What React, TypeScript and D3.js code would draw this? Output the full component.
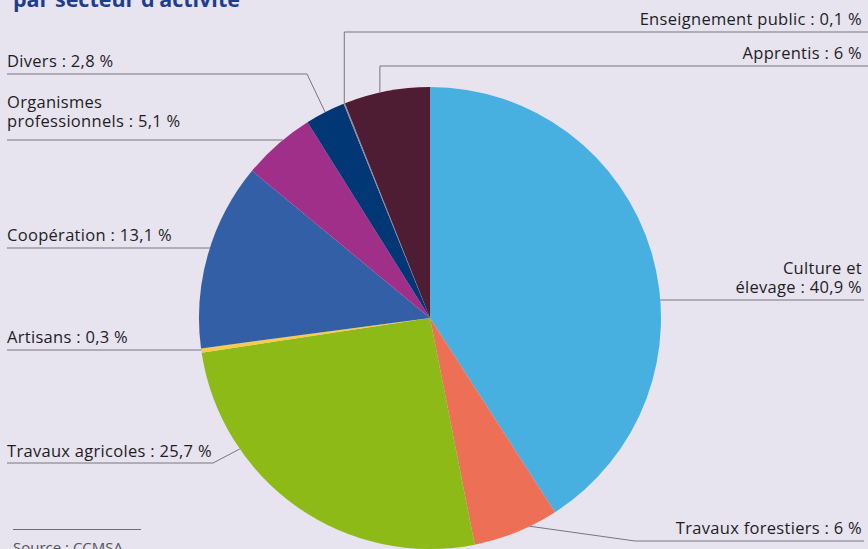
import React, { useEffect, useRef } from 'react';
import * as d3 from 'd3';

// Données : répartition par secteur d'activité (sens horaire depuis midi)
const categories = [
  'Culture et élevage',
  'Travaux forestiers',
  'Travaux agricoles',
  'Artisans',
  'Coopération',
  'Organismes professionnels',
  'Divers',
  'Enseignement public',
  'Apprentis',
];
const values = [40.9, 6, 25.7, 0.3, 13.1, 5.1, 2.8, 0.1, 6];
const labelTexts = [
  ['Culture et', 'élevage : 40,9 %'],
  ['Travaux forestiers : 6 %'],
  ['Travaux agricoles : 25,7 %'],
  ['Artisans : 0,3 %'],
  ['Coopération : 13,1 %'],
  ['Organismes', 'professionnels : 5,1 %'],
  ['Divers : 2,8 %'],
  ['Enseignement public : 0,1 %'],
  ['Apprentis : 6 %'],
];
const colors = ['#47b0e0', '#ec6f56', '#8dba17', '#f8cb4a', '#335fa6', '#a02f89', '#023776', '#8d8aa6', '#4f1d33'];

// Placement des étiquettes (séparé des données)
type Layout = { side: 'left' | 'right'; y: number; kind: 'h' | 'elbow' | 'v'; at?: number; elbowX?: number; gap?: number };
const layouts: Layout[] = [
  { side: 'right', y: 300, kind: 'h' },
  { side: 'right', y: 541, kind: 'elbow', at: 0.33, elbowX: 635 },
  { side: 'left', y: 463, kind: 'elbow', at: 0.72, elbowX: 213, gap: 6 },
  { side: 'left', y: 350, kind: 'h' },
  { side: 'left', y: 248, kind: 'h' },
  { side: 'left', y: 140, kind: 'h', gap: 13 },
  { side: 'left', y: 74, kind: 'elbow', at: 0.5, elbowX: 307 },
  { side: 'right', y: 32, kind: 'v', at: 0.5 },
  { side: 'right', y: 66, kind: 'v', at: 0.42 },
];

const W = 868;
const H = 549;

const App: React.FC = () => {
  const ref = useRef<SVGSVGElement>(null);

  useEffect(() => {
    document.body.style.margin = '0';
    document.body.style.background = '#e7e3ef';

    const svg = d3.select(ref.current);
    svg.selectAll('*').remove();

    const cx = 430;
    const cy = 318;
    const r = 231;
    const font = '"Open Sans", Lato, sans-serif';

    svg.append('rect').attr('width', W).attr('height', H).attr('fill', '#e7e3ef');

    // Titre (partiellement coupé en haut)
    svg
      .append('text')
      .attr('x', 13)
      .attr('y', 7)
      .attr('font-family', font)
      .attr('font-weight', 700)
      .attr('font-size', 21.5)
      .attr('fill', '#1d3d8f')
      .text('par secteur d’activité');

    const pie = d3
      .pie<number>()
      .sort(null)
      .value(d => d);
    const arcs = pie(values);
    const arc = d3.arc<d3.PieArcDatum<number>>().innerRadius(0).outerRadius(r);

    const g = svg.append('g').attr('transform', `translate(${cx},${cy})`);
    g.selectAll('path')
      .data(arcs)
      .enter()
      .append('path')
      .attr('d', arc)
      .attr('fill', (d, i) => colors[i]);

    const pointAt = (a: number) => [cx + r * Math.sin(a), cy - r * Math.cos(a)];

    const lines = svg.append('g').attr('fill', 'none').attr('stroke', '#77767f').attr('stroke-width', 1);
    const labels = svg
      .append('g')
      .attr('font-family', font)
      .attr('font-size', 16.5)
      .attr('letter-spacing', 0.3)
      .attr('fill', '#1e1e24');

    arcs.forEach((a, i) => {
      const l = layouts[i];
      const t = l.at ?? 0.5;
      const ang = a.startAngle + (a.endAngle - a.startAngle) * t;
      const path = d3.path();
      if (l.kind === 'h') {
        const dy = l.y - cy;
        const dx = Math.sqrt(r * r - dy * dy);
        if (l.side === 'left') {
          path.moveTo(7, l.y);
          path.lineTo(cx - dx, l.y);
        } else {
          path.moveTo(cx + dx, l.y);
          path.lineTo(W - 4, l.y);
        }
      } else if (l.kind === 'elbow') {
        const [px, py] = pointAt(ang);
        if (l.side === 'left') {
          path.moveTo(7, l.y);
          path.lineTo(l.elbowX!, l.y);
          path.lineTo(px, py);
        } else {
          path.moveTo(W - 4, l.y);
          path.lineTo(l.elbowX!, l.y);
          path.lineTo(px, py);
        }
      } else {
        const [px, py] = pointAt(ang);
        path.moveTo(W, l.y);
        path.lineTo(px, l.y);
        path.lineTo(px, py);
      }
      lines.append('path').attr('d', path.toString());

      const txt = labelTexts[i];
      const gap = l.gap ?? 7;
      const x = l.side === 'left' ? 7 : 862;
      txt.forEach((s, k) => {
        labels
          .append('text')
          .attr('x', x)
          .attr('y', l.y - gap - (txt.length - 1 - k) * 19)
          .attr('text-anchor', l.side === 'left' ? 'start' : 'end')
          .text(s);
      });
    });

    // Source
    svg
      .append('line')
      .attr('x1', 13)
      .attr('x2', 141)
      .attr('y1', 529.5)
      .attr('y2', 529.5)
      .attr('stroke', '#6e6d76')
      .attr('stroke-width', 1);
    svg
      .append('text')
      .attr('x', 13)
      .attr('y', 553)
      .attr('font-family', font)
      .attr('font-size', 15)
      .attr('fill', '#55545c')
      .text('Source : CCMSA');
  }, []);

  return (
    <svg
      ref={ref}
      width={W}
      height={H}
      style={{ position: 'fixed', left: 0, top: 0, display: 'block' }}
      aria-label={categories.join(', ')}
    />
  );
};

export default App;
